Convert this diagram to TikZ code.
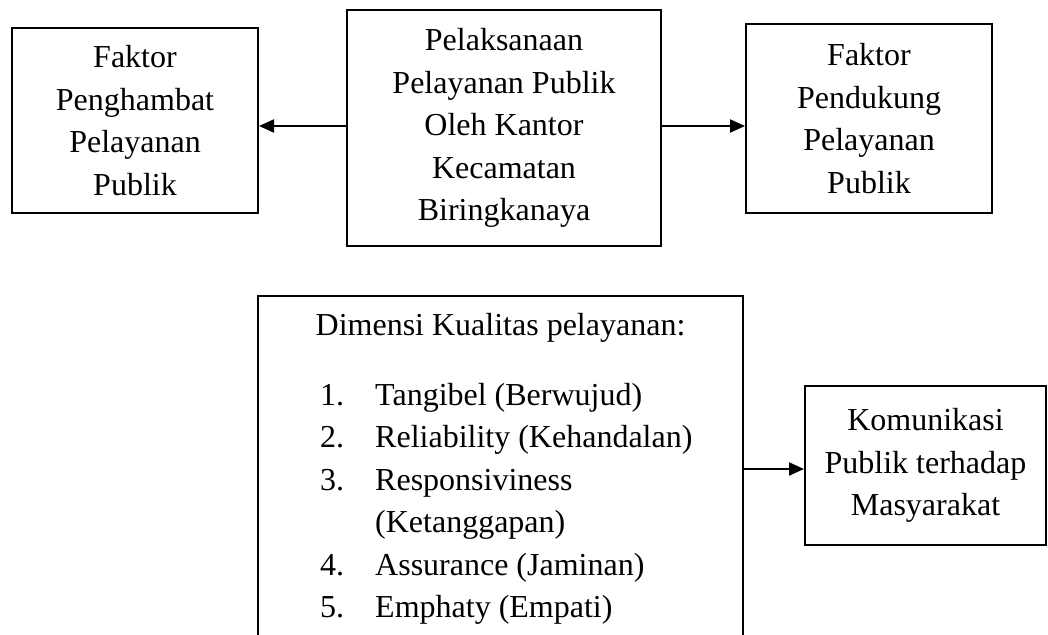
\documentclass[tikz,border=0pt]{standalone}
\usepackage{fontspec}
\setmainfont{Liberation Serif}
\usetikzlibrary{arrows.meta,positioning}
\tikzset{
  boxStyle/.style={draw, line width=2pt, align=center, inner sep=0pt},
  flowArrow/.style={line width=2pt, -{Triangle[length=15pt,width=13pt]}},
  listText/.style={anchor=base west, inner sep=0pt},
}
\newcommand{\boxFont}{\fontsize{32}{42.5}\selectfont}

\begin{document}
\begin{tikzpicture}[x=1pt, y=-1pt, every node/.style={font=\boxFont}]
\path[use as bounding box, clip] (0,0) rectangle (1048,634);
% upper row
\node[boxStyle, minimum width=246pt, minimum height=185pt] (hambat) at (135,120.5)
  {Faktor\\Penghambat\\Pelayanan\\Publik};
\node[boxStyle, minimum width=314pt, minimum height=236pt] (pelaksanaan) at (504,128)
  {Pelaksanaan\\Pelayanan Publik\\Oleh Kantor\\Kecamatan\\Biringkanaya};
\node[boxStyle, minimum width=246pt, minimum height=189pt] (dukung) at (869,118.5)
  {Faktor\\Pendukung\\Pelayanan\\Publik};
\draw[flowArrow] ([yshift=2pt]pelaksanaan.west) -- ([yshift=2pt]pelaksanaan.west -| hambat.east);
\draw[flowArrow] ([yshift=2pt]pelaksanaan.east) -- ([yshift=2pt]pelaksanaan.east -| dukung.west);

% lower row
\node[boxStyle, minimum width=485pt, minimum height=364pt] (dimensi) at (500.5,478) {};
\node[anchor=base, inner sep=0pt] (dimensiJudul) at (500.5,335) {Dimensi Kualitas pelayanan:};
\foreach \num/\item [count=\i] in {1./Tangibel (Berwujud),
    2./Reliability (Kehandalan),
    3./Responsiviness,
    /(Ketanggapan),
    4./Assurance (Jaminan),
    5./Emphaty (Empati)} {
  \node[listText] (nomor\i) at (320,{405+42.5*(\i-1)}) {\num};
  \node[listText] (butir\i) at (375,{405+42.5*(\i-1)}) {\item};
}
\node[boxStyle, minimum width=241pt, minimum height=159pt] (komunikasi) at (925.5,465.5)
  {Komunikasi\\Publik terhadap\\Masyarakat};
\draw[flowArrow] ([yshift=-3.5pt]komunikasi.west -| dimensi.east) -- ([yshift=-3.5pt]komunikasi.west);
\end{tikzpicture}
\end{document}
